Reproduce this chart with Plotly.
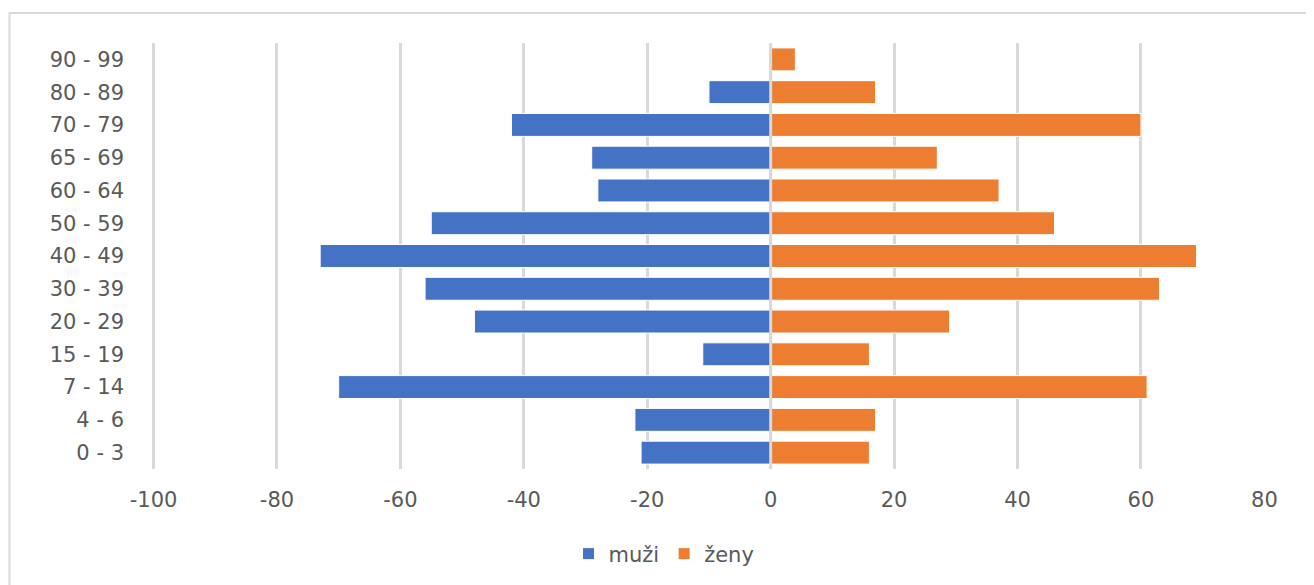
import plotly.graph_objects as go

# ---- data ----
age_groups = ["0 - 3", "4 - 6", "7 - 14", "15 - 19", "20 - 29", "30 - 39", "40 - 49",
              "50 - 59", "60 - 64", "65 - 69", "70 - 79", "80 - 89", "90 - 99"]
muzi = [-21, -22, -70, -11, -48, -56, -73, -55, -28, -29, -42, -10, 0]
zeny = [16, 17, 61, 16, 29, 63, 69, 46, 37, 27, 60, 17, 4]
x_ticks = [-100, -80, -60, -40, -20, 0, 20, 40, 60, 80]

# ---- layout constants (page pixels; html body has an 8px margin) ----
OFF = 8
W, H = 1314 - OFF, 585 - OFF
L, R, T, B = 152 - OFF, 49, 43 - OFF, 116
pw, ph = W - L - R, H - T - B

def px_x(p):
    return (p - OFF - L) / pw

def px_y(p):
    return (H - B - (p - OFF)) / ph

FONT = dict(family="DejaVu Sans", size=21, color="#595959")
BLUE = "#4472C4"
ORANGE = "#ED7D31"
GRID = "#D9D9D9"

fig = go.Figure()
fig.add_trace(go.Bar(y=age_groups, x=muzi, name="muži", orientation="h",
                     marker=dict(color=BLUE, line=dict(color="white", width=1))))
fig.add_trace(go.Bar(y=age_groups, x=zeny, name="ženy", orientation="h",
                     marker=dict(color=ORANGE, line=dict(color="white", width=1))))

fig.update_layout(
    width=W, height=H,
    margin=dict(l=L, r=R, t=T, b=B, autoexpand=False),
    barmode="relative",
    bargap=0.3,
    plot_bgcolor="white",
    paper_bgcolor="white",
    font=FONT,
    showlegend=True,
    legend=dict(orientation="h", x=px_x(664), xanchor="center",
                y=px_y(554), yanchor="middle", font=FONT,
                traceorder="normal", itemwidth=30),
    xaxis=dict(range=[-100.25, 80.1], tickvals=x_ticks, ticktext=[str(v) for v in x_ticks],
               showgrid=True, gridcolor=GRID, gridwidth=2.5, zeroline=False,
               showline=False, ticks="", ticklabelstandoff=16, tickfont=FONT),
    yaxis=dict(categoryorder="array", categoryarray=age_groups,
               range=[-0.5, len(age_groups) - 0.5],
               showgrid=False, zeroline=False, showline=False, ticks="",
               ticklabelstandoff=27, tickfont=FONT),
    shapes=[
        # zero gridline visible between the bars
        dict(type="line", xref="x", yref="paper", x0=0, x1=0, y0=0, y1=1,
             line=dict(color=GRID, width=3), layer="above"),
        # chart area frame
        dict(type="rect", xref="paper", yref="paper",
             x0=px_x(OFF + 1.5), x1=px_x(1340), y0=px_y(610), y1=px_y(13),
             line=dict(color=GRID, width=2), fillcolor="rgba(0,0,0,0)", layer="below"),
    ],
)

fig.write_html("out.html")
